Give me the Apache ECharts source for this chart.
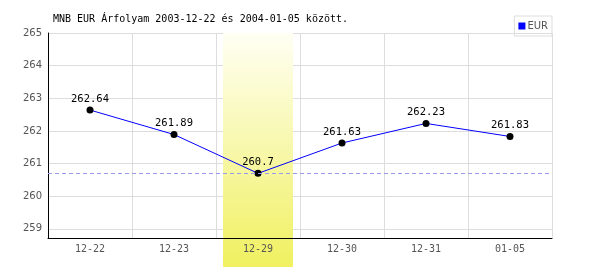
<!DOCTYPE html>
<html>
<head>
<meta charset="utf-8">
<script src="https://cdn.jsdelivr.net/npm/echarts@6/dist/echarts.min.js"></script>
<style>html,body{margin:0;padding:0;background:#fff}#c{width:600px;height:270px}</style>
</head>
<body>
<div id="c"></div>
<script>
var titleText = 'MNB EUR Árfolyam 2003-12-22 és 2004-01-05 között.';
var seriesName = 'EUR';
var categories = ['12-22', '12-23', '12-29', '12-30', '12-31', '01-05'];
var values = [262.64, 261.89, 260.7, 261.63, 262.23, 261.83];
var yTicks = [259, 260, 261, 262, 263, 264, 265];
var highlightCategory = '12-29';
var minValue = 260.7;
var yMin = 258.72, yMax = 265;

var chart = echarts.init(document.getElementById('c'), null, {renderer: 'canvas'});
var mono = 'DejaVu Sans Mono';
chart.setOption({
  animation: false,
  title: {
    text: titleText, left: 48, top: 9,
    textStyle: {fontFamily: mono, fontSize: 10, fontWeight: 'normal', color: '#000'}
  },
  legend: {
    right: 48, top: 16, orient: 'vertical',
    data: [{name: seriesName, icon: 'rect', itemStyle: {color: '#0000ff'}}],
    itemWidth: 7, itemHeight: 7, itemGap: 2,
    padding: [5, 4, 5, 4],
    borderColor: '#ddd', borderWidth: 1,
    textStyle: {fontFamily: 'DejaVu Sans', fontSize: 10, color: '#555', padding: [0, 0, 0, -3]}
  },
  grid: {left: 48, right: 48, top: 33, bottom: 32, containLabel: false},
  xAxis: {
    type: 'category', data: categories, boundaryGap: true,
    axisLine: {lineStyle: {color: '#000', width: 1}},
    axisTick: {show: false},
    axisLabel: {fontFamily: mono, fontSize: 10, color: '#555', margin: 6},
    splitLine: {show: true, lineStyle: {color: '#ddd', width: 1}}
  },
  yAxis: {
    type: 'value', min: yMin, max: yMax,
    axisLine: {show: true, lineStyle: {color: '#000', width: 1}},
    axisTick: {show: false, customValues: yTicks},
    axisLabel: {fontFamily: 'DejaVu Sans', fontSize: 10, color: '#555', margin: 6, customValues: yTicks},
    splitLine: {show: true, lineStyle: {color: '#ddd', width: 1}}
  },
  series: [
    {
      type: 'custom', silent: true, z: 0, clip: false,
      data: [[highlightCategory, yMax]],
      renderItem: function (params, api) {
        var c = api.coord([api.value(0), api.value(1)]);
        var band = api.size([1, 0])[0];
        var w = band * 70 / 84;
        var cs = params.coordSys;
        return {
          type: 'rect',
          shape: {x: c[0] - w / 2, y: cs.y, width: w, height: cs.height + 29},
          style: {fill: new echarts.graphic.LinearGradient(0, 0, 0, 1, [
            {offset: 0, color: '#fffff4'},
            {offset: 1, color: '#f0f060'}
          ])}
        };
      }
    },
    {
      name: seriesName, type: 'line', data: values, z: 3,
      lineStyle: {color: '#0000ff', width: 1},
      itemStyle: {color: '#000'},
      symbol: 'circle', symbolSize: 7,
      label: {show: true, position: 'top', distance: 2, fontFamily: mono, fontSize: 10.5, color: '#000'},
      markLine: {
        silent: true, symbol: 'none',
        label: {show: false},
        lineStyle: {color: '#9999ee', type: [4, 3], width: 1},
        data: [{yAxis: minValue}]
      }
    }
  ]
});
</script>
</body>
</html>
